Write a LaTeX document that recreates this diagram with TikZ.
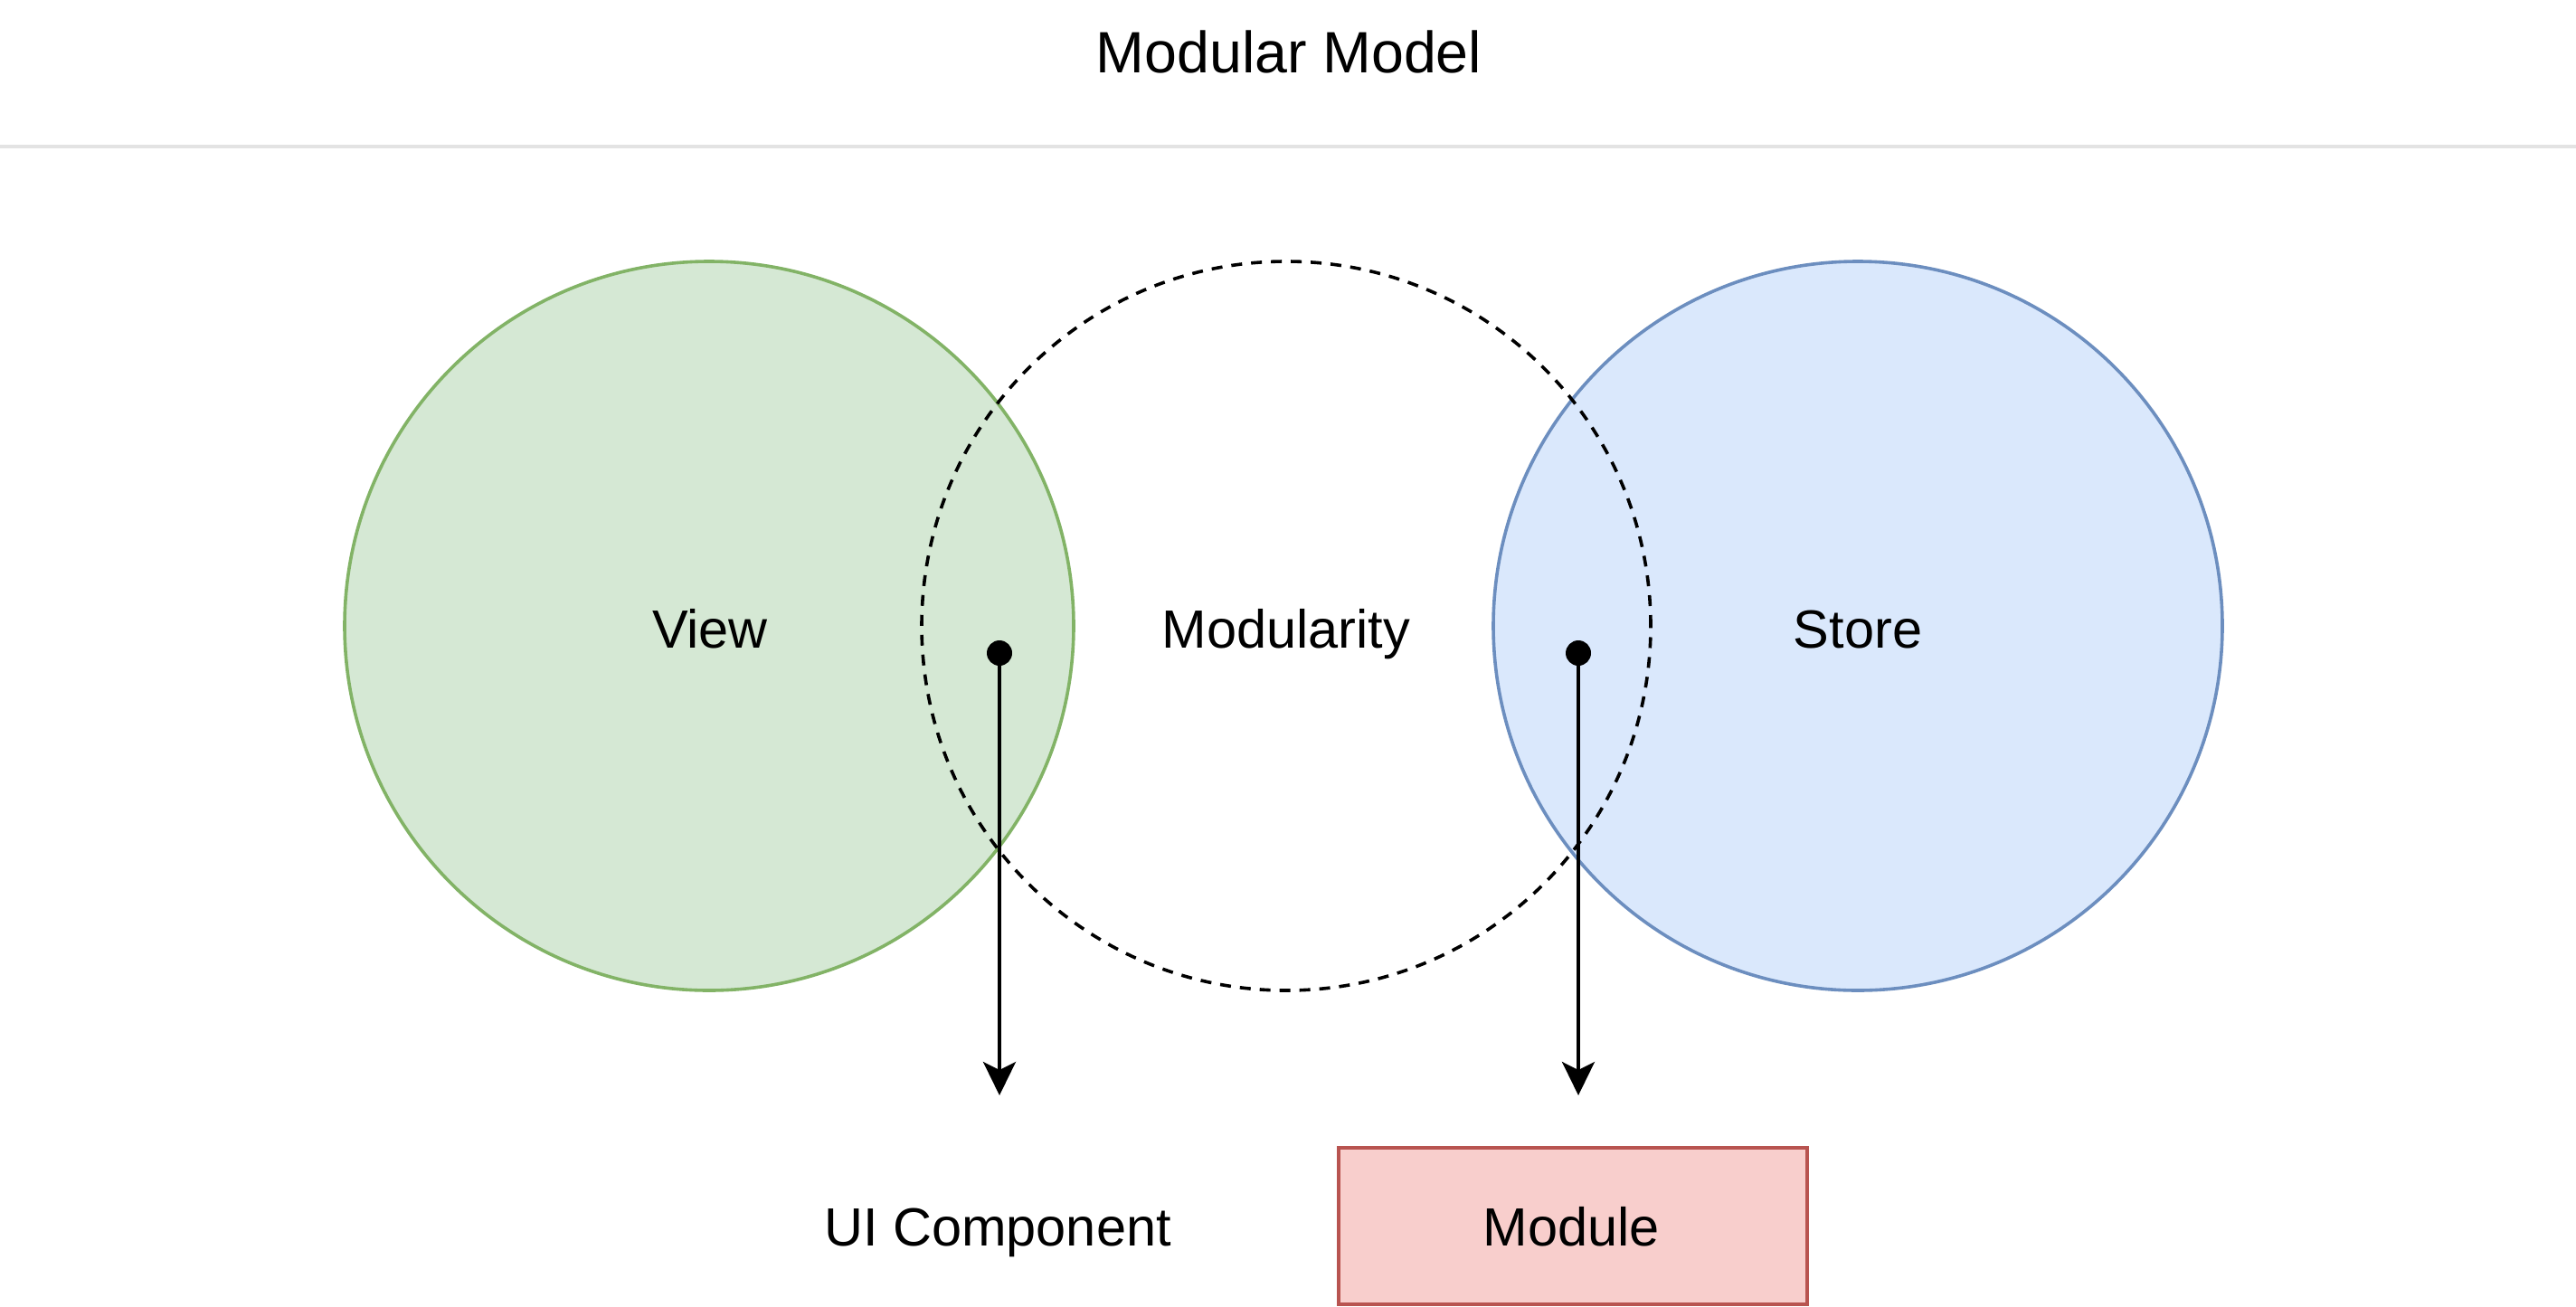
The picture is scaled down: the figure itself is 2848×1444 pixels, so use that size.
\documentclass[tikz,border=0pt]{standalone}
\usepackage{fontspec}
\setmainfont{Liberation Sans}
\usetikzlibrary{arrows.meta}
\definecolor{gfill}{HTML}{D5E8D4}
\definecolor{gline}{HTML}{82B366}
\definecolor{bfill}{HTML}{DAE8FC}
\definecolor{bline}{HTML}{6C8EBF}
\definecolor{rfill}{HTML}{F8CECC}
\definecolor{rline}{HTML}{B85450}
\definecolor{sep}{HTML}{E3E3E3}
\tikzset{
  lbl/.style={inner sep=0pt, anchor=base, font=\fontsize{59.5}{70}\selectfont},
  ttl/.style={inner sep=0pt, anchor=base, font=\fontsize{64.5}{76}\selectfont},
  venn/.style={circle, minimum size=806pt, inner sep=0pt, line width=3.6pt},
  dotc/.style={circle, fill=black, minimum size=28pt, inner sep=0pt},
  conn/.style={line width=3.8pt, -{Stealth[length=37pt, width=36pt, inset=9pt]}},
}
\begin{document}
\begin{tikzpicture}[x=1pt, y=-1pt]
\useasboundingbox (0,0) rectangle (2848,1444);
\fill[white] (0,0) rectangle (2848,1444);
% title and separator
\node[ttl] (title) at (1425,80) {Modular Model};
\coordinate (sl) at (0,162);
\coordinate (sr) at (2848,162);
\draw[sep, line width=4pt] (sl) -- (sr);
% circles
\node[venn, draw=gline, fill=gfill] (view) at (784,692) {};
\node[venn, draw=bline, fill=bfill] (store) at (2054,692) {};
\node[venn, draw=black, dashed, dash pattern=on 12pt off 10pt] (mod) at (1422,692) {};
% labels
\node[lbl] (viewl) at (785,716) {View};
\node[lbl] (modl) at (1422,716) {Modularity};
\node[lbl] (storel) at (2054,716) {Store};
% module box
\node[draw=rline, fill=rfill, line width=4pt, minimum width=518pt, minimum height=173pt, inner sep=0pt] (box) at (1739,1355.5) {};
\node[lbl] (modulel) at (1737,1377) {Module};
\node[lbl] (ui) at (1103,1377) {UI Component};
% connectors
\node[dotc] (d1) at (1105,722) {};
\node[dotc] (d2) at (1745,722) {};
\coordinate (e1) at (1105,1211);
\coordinate (e2) at (1745,1211);
\draw[conn] (d1.center) -- (e1);
\draw[conn] (d2.center) -- (e2);
\end{tikzpicture}
\end{document}
